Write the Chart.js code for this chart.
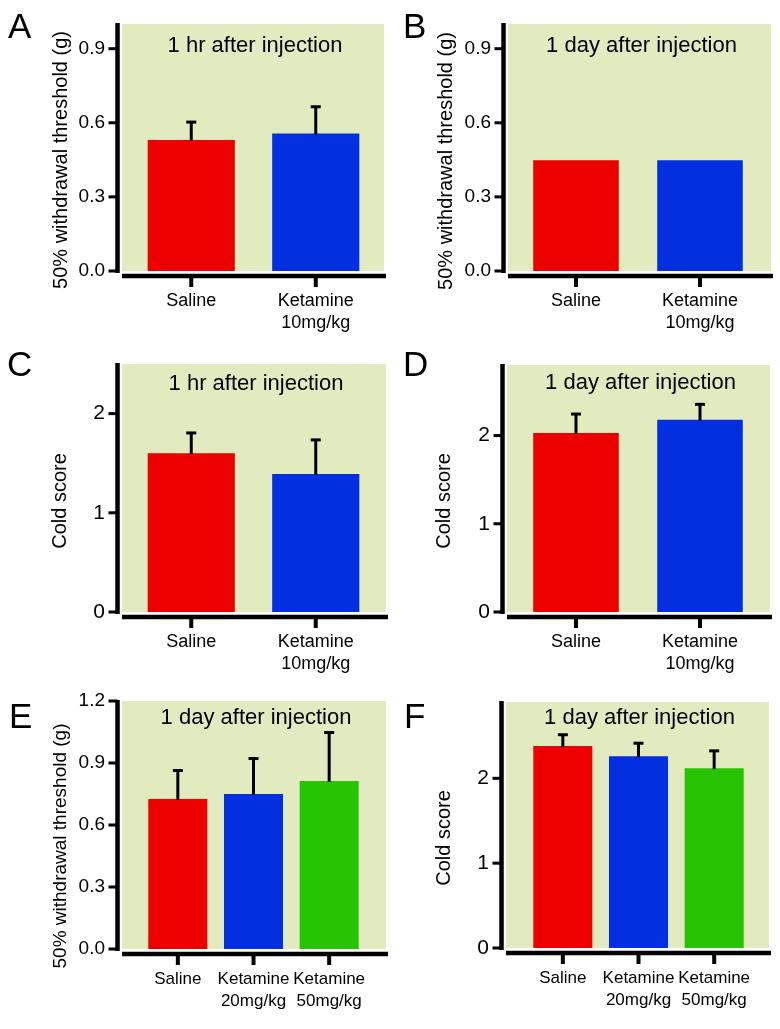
<!DOCTYPE html>
<html>
<head>
<meta charset="utf-8">
<script src="https://cdn.jsdelivr.net/npm/chart.js@4.4.1/dist/chart.umd.min.js"></script>
<style>
  html, body { margin: 0; padding: 0; background: #fff; }
  #wrap { position: relative; width: 780px; height: 1029px; overflow: hidden; background: #fff; }
  #wrap canvas { position: absolute; }
</style>
</head>
<body>
<div id="wrap"></div>
<script>
// ---- data ----
const groups2 = [["Saline"], ["Ketamine", "10mg/kg"]];
const groups3 = [["Saline"], ["Ketamine", "20mg/kg"], ["Ketamine", "50mg/kg"]];

// A: von Frey, 1 hr
const thresh1hrMean = [0.53, 0.557];
const thresh1hrSem = [0.075, 0.11];
// B: von Frey, 1 day
const thresh1dayMean = [0.448, 0.448];
const thresh1daySem = [0, 0];
// C: acetone, 1 hr
const cold1hrMean = [1.6, 1.39];
const cold1hrSem = [0.21, 0.35];
// D: acetone, 1 day
const cold1dayMean = [2.03, 2.18];
const cold1daySem = [0.22, 0.18];
// E: von Frey, doses, 1 day
const threshDoseMean = [0.726, 0.75, 0.813];
const threshDoseSem = [0.14, 0.174, 0.237];
// F: acetone, doses, 1 day
const coldDoseMean = [2.38, 2.26, 2.12];
const coldDoseSem = [0.14, 0.16, 0.21];

const threshTicks = [0, 0.3, 0.6, 0.9];
const threshTicksE = [0, 0.3, 0.6, 0.9, 1.2];
const coldTicks = [0, 1, 2];

const panelLetters = ["A", "B", "C", "D", "E", "F"];
const panelTitles = ["1 hr after injection", "1 day after injection", "1 hr after injection",
  "1 day after injection", "1 day after injection", "1 day after injection"];
const threshLabel = "50% withdrawal threshold (g)";
const coldLabel = "Cold score";

// ---- colours ----
const redBar = "#EC0000";
const blueBar = "#0230E0";
const greenBar = "#26C402";
const plotBg = "#E1EBBF";
const fontFam = "'Liberation Sans', Arial, sans-serif";

// ---- panel geometry (canvas box + plot edges inside the canvas) ----
const panels = [
  { box: [0, 0, 390, 340], green: [122, 384], top: 24, bottom: 271, cat: [129, 378], bar: 0.70,
    labels: groups2, mean: thresh1hrMean, sem: thresh1hrSem, max: 1.0, ticks: threshTicks, dec: 1, tickFont: 19,
    xFont: 18, yTitle: threshLabel, yTitlePos: [61, 160], yTitleFont: 20, letterPos: [8, 38], titleY: 52 },
  { box: [390, 0, 390, 340], green: [118, 381], top: 24, bottom: 271, cat: [124, 372], bar: 0.69,
    labels: groups2, mean: thresh1dayMean, sem: thresh1daySem, max: 1.0, ticks: threshTicks, dec: 1, tickFont: 19,
    xFont: 18, yTitle: threshLabel, yTitlePos: [56, 161], yTitleFont: 20, letterPos: [13, 38], titleY: 52 },
  { box: [0, 340, 390, 345], green: [122, 386], top: 24, bottom: 272, cat: [129, 378], bar: 0.70,
    labels: groups2, mean: cold1hrMean, sem: cold1hrSem, max: 2.5, ticks: coldTicks, dec: 0, tickFont: 21,
    xFont: 18, yTitle: coldLabel, yTitlePos: [60, 161], yTitleFont: 20, letterPos: [7, 36], titleY: 50 },
  { box: [390, 340, 390, 345], green: [117, 380], top: 25, bottom: 272, cat: [124, 372], bar: 0.69,
    labels: groups2, mean: cold1dayMean, sem: cold1daySem, max: 2.8, ticks: coldTicks, dec: 0, tickFont: 21,
    xFont: 18, yTitle: coldLabel, yTitlePos: [54, 161], yTitleFont: 20, letterPos: [13, 36], titleY: 49 },
  { box: [0, 670, 390, 359], green: [122, 386], top: 31, bottom: 279, cat: [140, 367], bar: 0.78,
    labels: groups3, mean: threshDoseMean, sem: threshDoseSem, max: 1.2, ticks: threshTicksE, dec: 1, tickFont: 19,
    xFont: 17, yTitle: threshLabel, yTitlePos: [61, 176], yTitleFont: 19, letterPos: [9, 58], titleY: 54 },
  { box: [390, 670, 390, 359], green: [116, 379], top: 32, bottom: 278, cat: [135, 362], bar: 0.78,
    labels: groups3, mean: coldDoseMean, sem: coldDoseSem, max: 2.9, ticks: coldTicks, dec: 0, tickFont: 21,
    xFont: 17, yTitle: coldLabel, yTitlePos: [54, 168], yTitleFont: 20, letterPos: [14, 58], titleY: 54 },
];

const barColors = [redBar, blueBar, greenBar];

// background + axes + error bars + texts
const panelDecor = {
  id: "panelDecor",
  beforeDatasetsDraw(chart) {
    const p = chart.options.plugins.panelDecor.panel;
    const ctx = chart.ctx;
    const y = chart.scales.y;
    ctx.save();
    ctx.fillStyle = plotBg;
    ctx.fillRect(p.green[0], y.top, p.green[1] - p.green[0], y.bottom - y.top);
    ctx.restore();
  },
  afterDatasetsDraw(chart) {
    const p = chart.options.plugins.panelDecor.panel;
    const ctx = chart.ctx;
    const y = chart.scales.y;
    const meta = chart.getDatasetMeta(0);
    ctx.save();
    ctx.strokeStyle = "#000";
    ctx.lineCap = "butt";

    // error bars (upper half only)
    p.mean.forEach((m, i) => {
      if (!p.sem[i]) return;
      const x = meta.data[i].x;
      const yb = y.getPixelForValue(m);
      const yt = y.getPixelForValue(m + p.sem[i]);
      ctx.lineWidth = 3;
      ctx.beginPath();
      ctx.moveTo(x, yb + 1);
      ctx.lineTo(x, yt);
      ctx.stroke();
      ctx.beginPath();
      ctx.moveTo(x - 5, yt + 0.5);
      ctx.lineTo(x + 5, yt + 0.5);
      ctx.stroke();
    });

    // y axis line and ticks
    const ax = p.green[0] - 4.5;
    ctx.lineWidth = 4.5;
    ctx.beginPath();
    ctx.moveTo(ax, y.top - 1);
    ctx.lineTo(ax, y.bottom + 2);
    ctx.stroke();
    ctx.lineWidth = 3;
    p.ticks.forEach(v => {
      const ty = y.getPixelForValue(v);
      ctx.beginPath();
      ctx.moveTo(ax - 9, ty);
      ctx.lineTo(ax, ty);
      ctx.stroke();
    });

    // x axis line and category ticks
    const bx = y.bottom + 5;
    ctx.lineWidth = 4.5;
    ctx.beginPath();
    ctx.moveTo(p.green[0], bx);
    ctx.lineTo(p.green[1] + 2, bx);
    ctx.stroke();
    ctx.lineWidth = 4;
    meta.data.forEach(bar => {
      ctx.beginPath();
      ctx.moveTo(bar.x, bx);
      ctx.lineTo(bar.x, bx + 11);
      ctx.stroke();
    });

    // texts
    ctx.fillStyle = "#000";
    ctx.textAlign = "left";
    ctx.textBaseline = "alphabetic";
    ctx.font = "35px " + fontFam;
    ctx.fillText(p.letter, p.letterPos[0], p.letterPos[1]);

    ctx.textAlign = "center";
    ctx.font = "22px " + fontFam;
    ctx.fillText(p.title, (p.green[0] + p.green[1]) / 2 + 2, p.titleY);

    ctx.save();
    ctx.translate(p.yTitlePos[0], p.yTitlePos[1]);
    ctx.rotate(-Math.PI / 2);
    ctx.textBaseline = "middle";
    ctx.font = p.yTitleFont + "px " + fontFam;
    ctx.fillText(p.yTitle, 0, 0);
    ctx.restore();

    ctx.restore();
  }
};

const wrap = document.getElementById("wrap");

panels.forEach((p, idx) => {
  p.letter = panelLetters[idx];
  p.title = panelTitles[idx];
  const [bx, by, bw, bh] = p.box;
  const cv = document.createElement("canvas");
  cv.width = bw;
  cv.height = bh;
  cv.style.left = bx + "px";
  cv.style.top = by + "px";
  cv.style.width = bw + "px";
  cv.style.height = bh + "px";
  wrap.appendChild(cv);

  const n = p.mean.length;
  new Chart(cv, {
    type: "bar",
    data: {
      labels: p.labels,
      datasets: [{
        data: p.mean,
        backgroundColor: barColors.slice(0, n),
        borderWidth: 0,
        categoryPercentage: 1,
        barPercentage: p.bar,
      }],
    },
    options: {
      responsive: false,
      animation: false,
      devicePixelRatio: 1,
      layout: { padding: { left: 0, top: p.top, right: bw - p.cat[1], bottom: 0 } },
      scales: {
        x: {
          type: "category",
          offset: true,
          grid: { display: false, drawTicks: false },
          border: { display: false },
          ticks: {
            autoSkip: false,
            maxRotation: 0,
            minRotation: 0,
            padding: 19,
            color: "#000",
            font: { family: fontFam, size: p.xFont, lineHeight: 22 / p.xFont },
          },
          afterFit(s) {
            s.height = bh - p.bottom;
            s.paddingLeft = 0;
            s.paddingRight = 0;
          },
        },
        y: {
          min: 0,
          max: p.max,
          grid: { display: false, drawTicks: false },
          border: { display: false },
          afterBuildTicks(s) { s.ticks = p.ticks.map(v => ({ value: v })); },
          ticks: {
            padding: p.cat[0] - (p.green[0] - 17),
            color: "#000",
            font: { family: fontFam, size: p.tickFont },
            callback: v => Number(v).toFixed(p.dec),
          },
          afterFit(s) {
            s.width = p.cat[0];
            s.paddingTop = 0;
            s.paddingBottom = 0;
          },
        },
      },
      plugins: {
        legend: { display: false },
        tooltip: { enabled: false },
        panelDecor: { panel: p },
      },
    },
    plugins: [panelDecor],
  });
});
</script>
</body>
</html>
